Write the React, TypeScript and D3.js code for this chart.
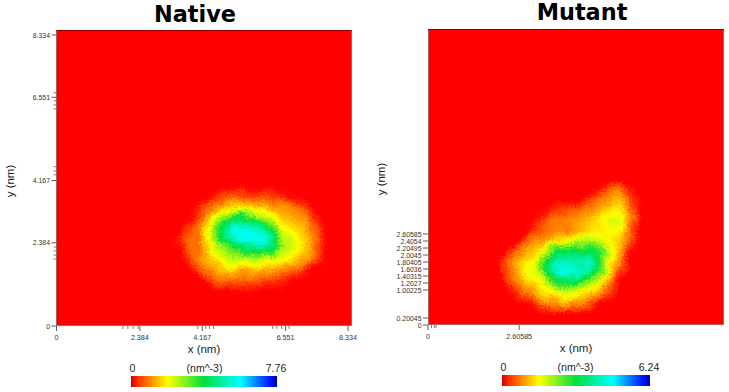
import React from "react";
import * as d3 from "d3";

// density grids (nm^-3); rows run from high y to low y
const nativeGrid: number[][] = [
  [0,0,0,0,0,0,0,0,0,0,0,0,0,0,0,0,0],
  [0,0,0,0,.1,.5,.8,.9,.6,.7,.5,.3,.1,0,0,0,0],
  [0,0,0,.2,.9,1.3,1.6,1.7,1.5,1.4,1.2,1.2,1.0,.5,0,0,0],
  [0,0,.1,.8,1.5,2.6,3.8,4.2,3.6,2.8,2.1,1.5,1.3,1.1,.3,0,0],
  [0,0,.6,1.1,2.2,4.2,5.6,5.6,5.3,4.8,3.5,2.1,1.7,1.5,.7,0,0],
  [0,.2,.9,.9,2.2,4.0,5.3,5.8,5.9,5.7,4.6,2.6,2.1,1.6,.9,0,0],
  [0,.1,.8,.9,2,2.6,3.2,3.8,4.5,4.6,4.0,2.6,2.1,1.7,.9,0,0],
  [0,0,.4,1.2,1.5,2.1,2.4,2.6,2.5,2.4,2.2,2,1.6,1.3,.6,0,0],
  [0,0,0,.7,1.2,1.5,1.7,1.3,1.4,1.3,1.3,1.1,.9,.4,0,0,0],
  [0,0,0,0,.4,.8,.9,.9,.9,.7,.5,.3,0,0,0,0,0],
  [0,0,0,0,0,0,0,0,0,0,0,0,0,0,0,0,0],
  [0,0,0,0,0,0,0,0,0,0,0,0,0,0,0,0,0],
];
const mutantGrid: number[][] = [
  [0,0,0,0,0,0,0,0,0,0,0,0,0,0],
  [0,0,0,0,0,0,0,0,0,.1,.6,.7,.1,0],
  [0,0,0,0,0,0,0,0,.4,.8,1,1.2,.5,0],
  [0,0,0,0,.1,.3,.5,.7,.9,1.1,1.4,1.5,.8,0],
  [0,0,0,.2,.6,.8,.9,1,1.2,1.4,1.9,1.8,.9,0],
  [0,0,0,.5,.8,.9,.8,1.1,1.4,1.5,1.6,1.5,.6,0],
  [0,0,.5,.9,1,1.4,1.8,2.1,2.1,1.9,1.5,1.3,.4,0],
  [0,.7,1.1,1.4,2.3,3.2,3.3,3.3,3.3,3,1.9,1.1,.1,0],
  [.4,1.1,1.5,1.8,3.3,4.2,4.3,4,4.3,3.1,1.6,.7,0,0],
  [.4,1,1.6,1.8,3.1,4.5,4.5,4.3,3.9,2.6,1.4,.4,0,0],
  [0,.7,1.2,1.5,2,2.9,3.2,2.9,2.2,1.6,.9,0,0,0],
  [0,.3,.7,1,1.4,1.7,1.8,1.6,1.3,.9,.3,0,0,0],
  [0,0,.1,.5,.8,1,1,.8,.6,.1,0,0,0,0],
  [0,0,0,0,0,0,0,0,0,0,0,0,0,0],
];
const gridStepNm = 0.3;
const nativeGridOrigin = [3.2, 4.0];
const mutantGridOrigin = [2.2, 4.2];

const domainMax = 8.334;
const nativeMax = 7.76;
const mutantMax = 6.24;

const nativeTicks = [0, 2.384, 4.167, 6.551, 8.334];
const nativeTickLabels = ["0", "2.384", "4.167", "6.551", "8.334"];
const nativeXMinor = [1.9, 2.04, 2.19, 2.33, 4.04, 4.27, 4.37, 4.49, 6.18, 6.3, 6.44, 6.65];
const nativeYMinor = [1.92, 2.03, 2.15, 2.26, 4.33, 4.44, 4.56, 6.22, 6.33, 6.45, 6.68];

const mutantYTicks = [0, 0.20045, 1.00225, 1.2027, 1.40315, 1.6036, 1.80405, 2.0045, 2.20495, 2.4054, 2.60585];
const mutantYLabels = ["0", "0.20045", "1.00225", "1.2027", "1.40315", "1.6036", "1.80405", "2.0045", "2.20495", "2.4054", "2.60585"];
const mutantXTicks = [0, 2.60585];
const mutantXLabels = ["0", "2.60585"];
const mutantXMinor = [0.1, 0.18, 0.23];
const mutantYMinor: number[] = [];

const colorStops = [0, 0.25, 0.5, 0.75, 0.97, 1];
const colorValues = ["#ff0000", "#ffff00", "#00e040", "#00ffff", "#0000ff", "#0000b0"];
const rainbow = d3.scaleLinear<string>().domain(colorStops).range(colorValues).interpolate(d3.interpolateRgb as any);

const TICK_FONT = "'Liberation Sans', Arial, sans-serif";

interface PanelProps {
  id: string; title: string; titleX: number; titleY: number; titleSize: number;
  imgX: [number, number]; imgY: [number, number]; x0: number; y0: number;
  grid: number[][]; origin: number[]; maxV: number;
  xTicks: number[]; xLabels: string[]; yTicks: number[]; yLabels: string[];
  xMinor: number[]; yMinor: number[];
  xLabelX: number; xLabelY: number; yLabelX: number; yLabelY: number;
  barX: [number, number]; barY: number;
}

function Panel(p: PanelProps) {
  const x = d3.scaleLinear().domain([0, domainMax]).range([p.x0, p.x0 + 291.5]);
  const y = d3.scaleLinear().domain([0, domainMax]).range([p.y0, p.y0 - 291]);
  const rows = p.grid.length, cols = p.grid[0].length;
  const values = p.grid.flat();
  const thresholds = d3.range(0.06, p.maxV * 0.82, p.maxV / 90);
  const contours = d3.contours().size([cols, rows]).thresholds(thresholds)(values);
  const path = d3.geoPath(d3.geoTransform({
    point(this: any, gx: number, gy: number) {
      this.stream.point(
        x(p.origin[0] + (gx - 0.5) * gridStepNm),
        y(p.origin[1] - (gy - 0.5) * gridStepNm),
      );
    },
  }));
  const w = p.imgX[1] - p.imgX[0], h = p.imgY[1] - p.imgY[0];
  const gradId = `grad-${p.id}`;
  const gradStops = d3.range(0, 1.0001, 0.05);
  const barW = p.barX[1] - p.barX[0];
  return (
    <g>
      <defs>
        <clipPath id={`clip-${p.id}`}><rect x={p.imgX[0]} y={p.imgY[0]} width={w} height={h} /></clipPath>
        <filter id={`speck-${p.id}`} x="0" y="0" width="1" height="1" filterUnits="objectBoundingBox" colorInterpolationFilters="sRGB">
          <feTurbulence type="fractalNoise" baseFrequency="0.08" numOctaves={2} seed={p.id === "n" ? 4 : 9} result="low" />
          <feDisplacementMap in="SourceGraphic" in2="low" scale={9} xChannelSelector="R" yChannelSelector="G" result="a" />
          <feTurbulence type="fractalNoise" baseFrequency="0.55" numOctaves={2} seed={p.id === "n" ? 7 : 3} result="high" />
          <feDisplacementMap in="a" in2="high" scale={9} xChannelSelector="G" yChannelSelector="R" result="b" />
          <feGaussianBlur in="b" stdDeviation={0.6} />
        </filter>
        <linearGradient id={gradId}>
          <stop offset={0} stopColor="#d00000" />
          {gradStops.slice(1).map((s) => <stop key={s} offset={s} stopColor={rainbow(s)} />)}
        </linearGradient>
      </defs>
      <text x={p.titleX} y={p.titleY} textAnchor="middle" fontFamily="'DejaVu Sans'" fontWeight="bold" fontSize={p.titleSize} fill="#000">{p.title}</text>
      <rect x={p.imgX[0]} y={p.imgY[0]} width={w} height={h} fill="#ff0000" />
      <g clipPath={`url(#clip-${p.id})`}>
        <g filter={`url(#speck-${p.id})`}>
          <rect x={p.imgX[0]} y={p.imgY[0]} width={w} height={h} fill="#ff0000" />
          {contours.map((c, i) => (
            <path key={i} d={path(c as any) || ""} fill={rainbow(c.value / p.maxV)} />
          ))}
        </g>
      </g>
      <rect x={p.imgX[0] + 0.5} y={p.imgY[0] + 0.5} width={w - 1} height={h - 1} fill="none" stroke="#b06060" strokeWidth={1} />
      <line x1={p.imgX[0]} x2={p.imgX[1]} y1={p.imgY[0] + 0.5} y2={p.imgY[0] + 0.5} stroke="#900000" />
      {p.xTicks.map((t, i) => (
        <g key={i}>
          <line x1={x(t)} x2={x(t)} y1={p.y0} y2={p.y0 + 5} stroke="#333" strokeWidth={0.8} />
          <text x={x(t)} y={p.y0 + 14} textAnchor="middle" fontFamily={TICK_FONT} fontSize={7.2} fill="#333">{p.xLabels[i]}</text>
        </g>
      ))}
      {p.xMinor.map((t) => <line key={t} x1={x(t)} x2={x(t)} y1={p.y0} y2={p.y0 + 3} stroke="#444" strokeWidth={0.7} />)}
      {p.yTicks.map((t, i) => (
        <g key={i}>
          <line x1={p.x0 - 5} x2={p.x0} y1={y(t)} y2={y(t)} stroke="#333" strokeWidth={0.8} />
          <text x={p.x0 - 6.5} y={y(t) + 2.5} textAnchor="end" fontFamily={TICK_FONT} fontSize={6.9} fill="#333">{p.yLabels[i]}</text>
        </g>
      ))}
      {p.yMinor.map((t) => <line key={t} x1={p.x0 - 3} x2={p.x0} y1={y(t)} y2={y(t)} stroke="#444" strokeWidth={0.7} />)}
      <text x={p.xLabelX} y={p.xLabelY} textAnchor="middle" fontFamily={TICK_FONT} fontSize={11.5} fill="#222">x (nm)</text>
      <text transform={`translate(${p.yLabelX},${p.yLabelY}) rotate(-90)`} textAnchor="middle" fontFamily={TICK_FONT} fontSize={11.5} fill="#222">y (nm)</text>
      <rect x={p.barX[0]} y={p.barY} width={barW} height={11} fill={`url(#${gradId})`} />
      <text x={p.barX[0] + 1.5} y={p.barY - 4} textAnchor="middle" fontFamily={TICK_FONT} fontSize={10.5} fill="#222">0</text>
      <text x={p.barX[0] + 73.5} y={p.barY - 4} textAnchor="middle" fontFamily={TICK_FONT} fontSize={10.5} fill="#222">(nm^-3)</text>
      <text x={p.barX[1] - 1} y={p.barY - 4} textAnchor="middle" fontFamily={TICK_FONT} fontSize={10.5} fill="#222">{p.maxV.toFixed(2)}</text>
    </g>
  );
}

export default function App() {
  return (
    <svg width={729} height={392} viewBox="0 0 729 392" style={{ position: "absolute", left: 0, top: 0, background: "#fff" }}>
      <Panel id="n" title="Native" titleX={195} titleY={22} titleSize={22.4}
        imgX={[56, 352]} imgY={[30, 326]} x0={56.5} y0={326}
        grid={nativeGrid} origin={nativeGridOrigin} maxV={nativeMax}
        xTicks={nativeTicks} xLabels={nativeTickLabels} yTicks={nativeTicks} yLabels={nativeTickLabels}
        xMinor={nativeXMinor} yMinor={nativeYMinor}
        xLabelX={204} xLabelY={353} yLabelX={14} yLabelY={181}
        barX={[131, 277]} barY={376} />
      <Panel id="m" title="Mutant" titleX={582} titleY={20} titleSize={22.4}
        imgX={[428, 724]} imgY={[29, 325]} x0={428} y0={325}
        grid={mutantGrid} origin={mutantGridOrigin} maxV={mutantMax}
        xTicks={mutantXTicks} xLabels={mutantXLabels} yTicks={mutantYTicks} yLabels={mutantYLabels}
        xMinor={mutantXMinor} yMinor={mutantYMinor}
        xLabelX={576} xLabelY={352} yLabelX={385} yLabelY={179}
        barX={[502, 650]} barY={375} />
    </svg>
  );
}
